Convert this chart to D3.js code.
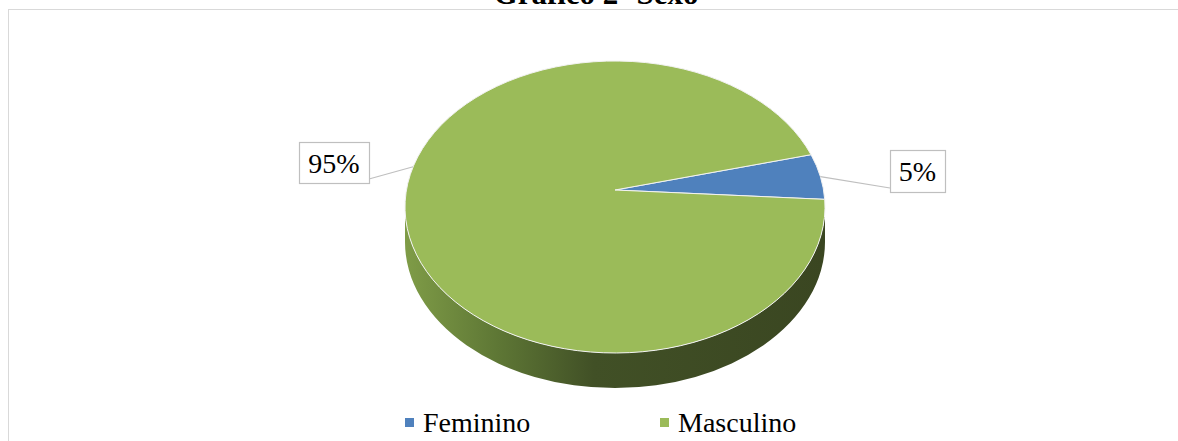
<!DOCTYPE html>
<html>
<head>
<meta charset="utf-8">
<script src="https://cdn.jsdelivr.net/npm/d3@7"></script>
<style>
  body { margin: 0; background: #fff; }
  text { font-family: "Liberation Serif", "Times New Roman", serif; }
</style>
</head>
<body>
<svg id="chart" width="1178" height="441"></svg>
<script>
// data
const categories = ["Feminino", "Masculino"];
const values = [5, 95];
const pctLabels = ["5%", "95%"];
const colors = ["#4f81bd", "#9bbb59"];
const title = "Gráfico 2- Sexo";

const width = 1178, height = 441;
const svg = d3.select('#chart');

// pie geometry (tilted disc)
const cx = 615, cy = 207, rx = 210, ry = 146;
const apex = [615, 190];
const depth = 35;
const rotation = 69 * Math.PI / 180;

function pt(a, dy) {
  const t = a - Math.PI / 2;
  return [cx + rx * Math.cos(t), cy + ry * Math.sin(t) + (dy || 0)];
}

// frame
svg.append('rect')
  .attr('x', 8.5).attr('y', 9.5)
  .attr('width', width + 10).attr('height', height + 10)
  .attr('fill', 'none')
  .attr('stroke', '#d9d9d9');

svg.append('text')
  .attr('x', 596).attr('y', 4)
  .attr('text-anchor', 'middle')
  .style('font-size', '31px')
  .style('font-weight', 'bold')
  .text(title);

const defs = svg.append('defs');
const grad = defs.append('linearGradient')
  .attr('id', 'side')
  .attr('gradientUnits', 'userSpaceOnUse')
  .attr('x1', cx - rx).attr('x2', cx + rx)
  .attr('y1', 0).attr('y2', 0);
[[0, '#7f9c47'], [0.22, '#5e7735'], [0.45, '#415026'], [1, '#3a4621']]
  .forEach(s => grad.append('stop').attr('offset', s[0]).attr('stop-color', s[1]));

const pie = d3.pie().sort(null)
  .startAngle(rotation)
  .endAngle(rotation + 2 * Math.PI);
const arcs = pie(values);

// side walls: front half only (screen angle 0..PI => pie angle PI/2..3PI/2)
const g = svg.append('g');
arcs.forEach((d, i) => {
  for (let k = -1; k <= 1; k++) {
    const lo = Math.max(d.startAngle + k * 2 * Math.PI, Math.PI / 2);
    const hi = Math.min(d.endAngle + k * 2 * Math.PI, 3 * Math.PI / 2);
    if (hi <= lo) continue;
    const p0 = pt(lo), p1 = pt(hi), q1 = pt(hi, depth), q0 = pt(lo, depth);
    const path = `M${p0} A${rx},${ry} 0 0 1 ${p1} L${q1} A${rx},${ry} 0 0 0 ${q0} Z`;
    g.append('path')
      .attr('d', path)
      .attr('fill', i === 1 ? 'url(#side)' : d3.color(colors[i]).darker(1.2));
  }
});

// top face
g.selectAll('path.top')
  .data(arcs)
  .join('path')
  .attr('class', 'top')
  .attr('d', d => {
    const p0 = pt(d.startAngle), p1 = pt(d.endAngle);
    const large = d.endAngle - d.startAngle > Math.PI ? 1 : 0;
    return `M${apex} L${p0} A${rx},${ry} 0 ${large} 1 ${p1} Z`;
  })
  .attr('fill', (d, i) => colors[i])
  .attr('stroke', '#f2f2f2')
  .attr('stroke-width', 1)
  .attr('stroke-linejoin', 'round');

// data labels with leader lines (at = pie angle of the leader's end, degrees)
const labelBoxes = [
  { cx: 917.5, cy: 171, w: 55, h: 42, side: 'left', at: 78 },
  { cx: 334, cy: 162.5, w: 70, h: 41, side: 'right', at: 286 }
];
arcs.forEach((d, i) => {
  const b = labelBoxes[i];
  const end = pt(b.at * Math.PI / 180);
  const sx = b.side === 'left' ? b.cx - b.w / 2 : b.cx + b.w / 2;
  const sy = b.cy + b.h / 2 - 4;
  svg.append('line')
    .attr('x1', sx).attr('y1', sy)
    .attr('x2', end[0]).attr('y2', end[1])
    .attr('stroke', '#bfbfbf').attr('stroke-width', 1.2);
  svg.append('rect')
    .attr('x', b.cx - b.w / 2 + 0.5).attr('y', b.cy - b.h / 2 + 0.5)
    .attr('width', b.w).attr('height', b.h)
    .attr('fill', '#fff')
    .attr('stroke', '#bfbfbf').attr('stroke-width', 1.2);
  svg.append('text')
    .attr('x', b.cx).attr('y', b.cy + 10)
    .attr('text-anchor', 'middle')
    .style('font-size', '28px')
    .attr('fill', '#000')
    .text(pctLabels[i]);
});

// legend
const legendX = d3.scalePoint().domain(categories).range([405, 660]);
const lg = svg.append('g');
categories.forEach((c, i) => {
  lg.append('rect')
    .attr('x', legendX(c)).attr('y', 418)
    .attr('width', 9).attr('height', 9)
    .attr('fill', colors[i]);
  lg.append('text')
    .attr('x', legendX(c) + 18).attr('y', 432)
    .style('font-size', '28px')
    .text(c);
});
</script>
</body>
</html>
